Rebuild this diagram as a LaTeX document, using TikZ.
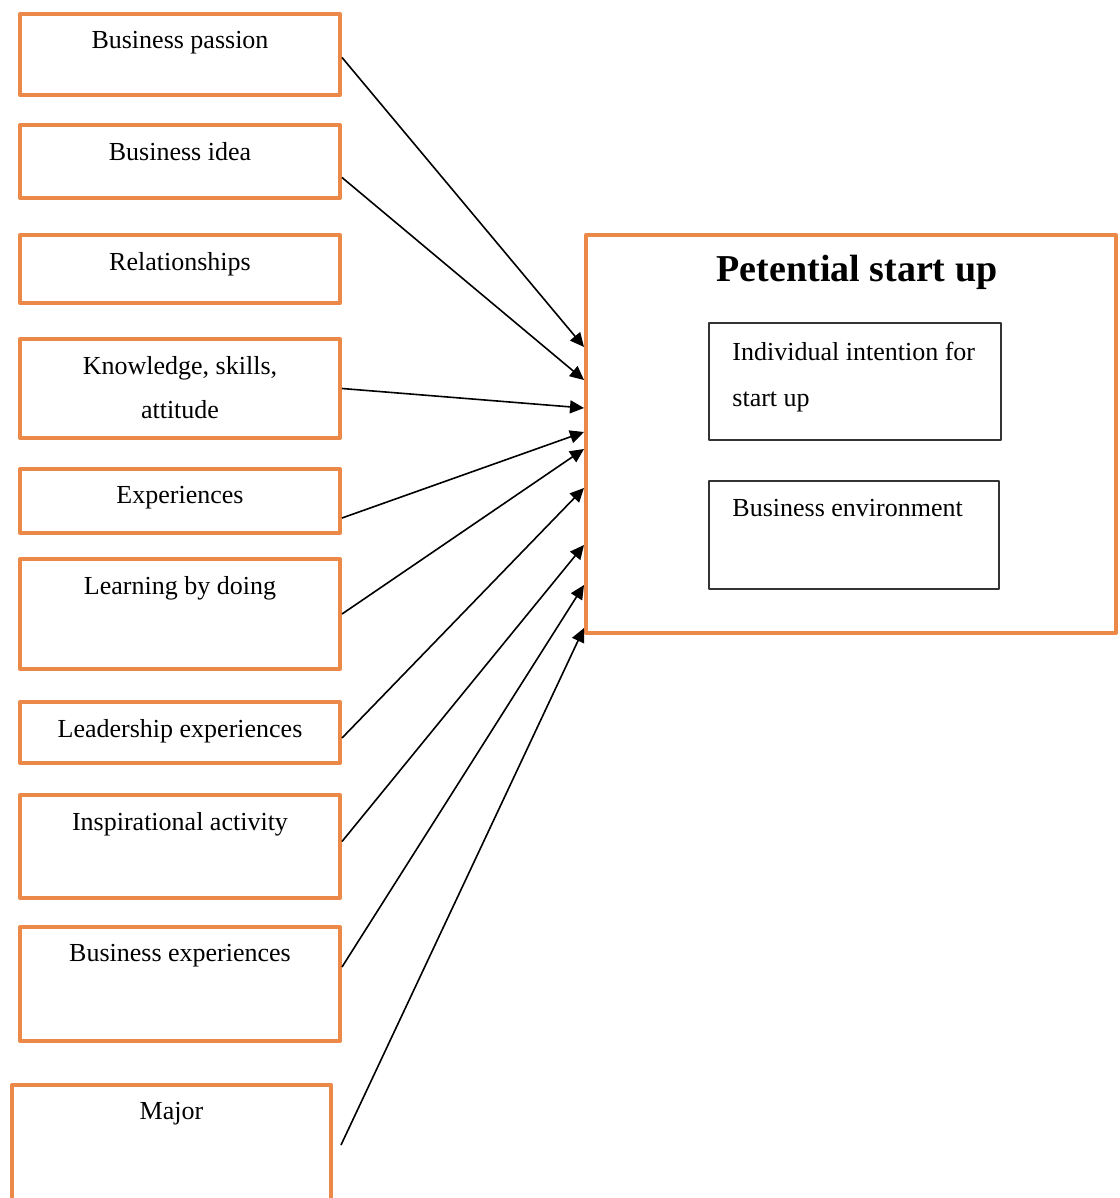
\documentclass[tikz,border=0pt]{standalone}
\usepackage{fontspec}
\setmainfont{Liberation Serif}
\usetikzlibrary{arrows.meta,positioning}
\definecolor{boxorange}{RGB}{236,136,72}
\begin{document}
\begin{tikzpicture}[x=1pt,y=-1pt,>={Triangle[length=7pt,width=6.5pt]},line join=round,
	font=\fontsize{13}{22}\selectfont,
	obox/.style={draw=boxorange,line width=2pt,minimum width=160pt},
	ibox/.style={draw=black!80,line width=1pt},
	lbl/.style={inner sep=0pt,align=center},
	arr/.style={->,line width=0.8pt}]
	\useasboundingbox (0,0) rectangle (559.5,599);
	\foreach \n/\y/\h/\t in {bp/27.25/40.5/Business passion, bi/80.75/36.5/Business idea,
		rl/134.5/34/Relationships, ks/194.25/49.5/{Knowledge, skills,\\attitude},
		ex/250.5/32/Experiences, lb/307/55/Learning by doing,
		le/366.25/30.5/Leadership experiences, ia/423.25/51.5/Inspirational activity,
		bx/492/57/Business experiences}{
		\node[obox,minimum height=\h pt] (\n) at (90,\y) {};
		\node[lbl,below=9.5pt of \n.north] (t\n) {\t};
	}
	\node[obox,minimum width=159.5pt,minimum height=58pt] (mj) at (85.75,571.5) {};
	\node[lbl,below=9.5pt of mj.north] (tmj) {Major};
	\node[obox,minimum width=265pt,minimum height=199pt] (pot) at (425.5,217) {};
	\node[lbl,font=\fontsize{19}{23}\selectfont\bfseries,below=11pt of pot.north,xshift=3pt] (ttl) {Petential start up};
	\node[ibox,minimum width=146pt,minimum height=58.5pt] (ii) at (427.5,190.75) {};
	\node[ibox,minimum width=145pt,minimum height=54pt] (be) at (427,267.5) {};
	\node[lbl,align=left,font=\fontsize{13}{23}\selectfont,below right=10pt and 12pt of ii.north west] (tii) {Individual intention for\\start up};
	\node[lbl,align=left,below right=9.5pt and 12pt of be.north west] (tbe) {Business environment};
	\path ([yshift=43.5pt]pot.west) coordinate (e1)
		([yshift=27pt]pot.west) coordinate (e2)
		([yshift=13pt]pot.west) coordinate (e3)
		([yshift=1pt]pot.west) coordinate (e4)
		([yshift=-7.5pt]pot.west) coordinate (e5)
		([yshift=-27pt]pot.west) coordinate (e6)
		([yshift=-55.5pt]pot.west) coordinate (e7)
		([yshift=-75.5pt]pot.west) coordinate (e8)
		([yshift=-97pt]pot.west) coordinate (e9)
		([xshift=4pt,yshift=-1pt]mj.east) coordinate (mjs);
	\draw[arr] ([yshift=-1.5pt]bp.east) -- (e1);
	\draw[arr] ([yshift=-8pt]bi.east) -- (e2);
	\draw[arr] (ks.east) -- (e3);
	\draw[arr] ([yshift=-8.5pt]ex.east) -- (e4);
	\draw[arr] (lb.east) -- (e5);
	\draw[arr] ([yshift=-2.75pt]le.east) -- (e6);
	\draw[arr] ([yshift=2.5pt]ia.east) -- (e7);
	\draw[arr] ([yshift=8.5pt]bx.east) -- (e8);
	\draw[arr] (mjs) -- (e9);
\end{tikzpicture}
\end{document}
